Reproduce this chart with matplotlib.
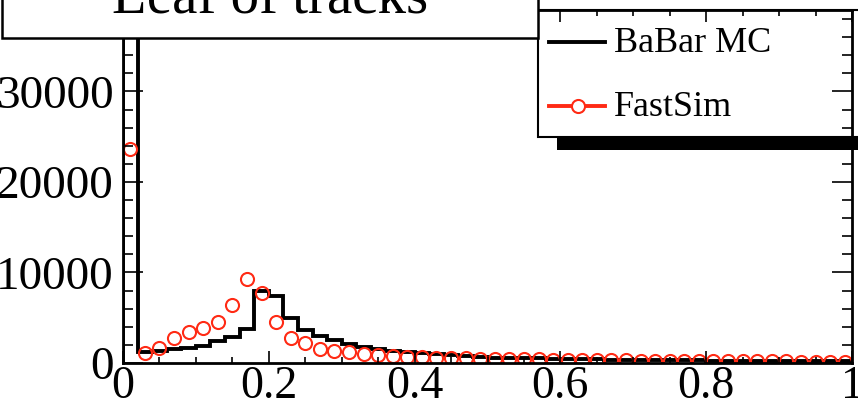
import numpy as np
import matplotlib.pyplot as plt
from matplotlib.patches import Rectangle
from matplotlib.lines import Line2D

# --- histogram contents, 50 bins of 0.02 between 0 and 1 ---
bin_edges = np.linspace(0.0, 1.0, 51)
bin_centers = 0.5 * (bin_edges[:-1] + bin_edges[1:])

babar_mc = [160000, 1200, 1350, 1500, 1650, 1900, 2400, 2900, 3800, 7900,
            7400, 5000, 3700, 2950, 2500, 2150, 1800, 1580, 1350, 1200,
            1050, 950, 850, 760, 680,
            600, 560, 530, 500, 470, 440, 420, 400, 380, 360,
            340, 320, 300, 290, 280, 270, 260, 250, 240, 230,
            220, 210, 200, 190, 180]

fastsim = [23600, 1150, 1700, 2800, 3400, 3900, 4500, 6400, 9300, 7700,
           4500, 2800, 2200, 1600, 1350, 1200, 1000, 850, 750, 700,
           650, 600, 550, 500, 480,
           450, 430, 410, 390, 370, 350, 330, 310, 300, 290,
           270, 260, 250, 240, 230, 220, 210, 200, 190, 180,
           170, 160, 150, 140, 130]

x_ticks = [0, 0.2, 0.4, 0.6, 0.8, 1.0]
x_tick_labels = ['0', '0.2', '0.4', '0.6', '0.8', '1']
y_ticks = [0, 10000, 20000, 30000]
y_tick_labels = ['0', '10000', '20000', '30000']

title_text = 'Leaf of tracks'
legend_labels = ['BaBar MC', 'FastSim']

RED = '#ff2a14'
SERIF = 'Liberation Serif'

W, H = 858, 413
fig = plt.figure(figsize=(W / 100, H / 100), dpi=100)

def fx(px):
    return px / W

def fy(py):
    # py measured from the top of the picture
    return 1 - py / H

# frame: x 123..852, y 10..363 px
ax = fig.add_axes([fx(123), fy(363), fx(852) - fx(123), fy(10) - fy(363)])

ax.stairs(babar_mc, bin_edges, color='black', lw=2.8, zorder=2)
ax.plot(bin_centers, fastsim, 'o', mfc='none', mec=RED, ms=9.4, mew=1.5, zorder=2.1)

ax.set_xlim(0, 1)
ax.set_ylim(0, 39000)
ax.set_xticks(x_ticks, x_tick_labels)
ax.set_yticks(y_ticks, y_tick_labels)
ax.set_xticks(np.arange(0, 1.0001, 0.05), minor=True)
ax.set_yticks(np.arange(0, 39000, 2000), minor=True)

ax.set_axisbelow(False)
for s in ax.spines.values():
    s.set_linewidth(2.0)
ax.tick_params(which='both', direction='in', top=True, right=True, width=1.2)
ax.xaxis.set_tick_params(which='major', length=8.5, pad=2, labelsize=33)
ax.xaxis.set_tick_params(which='minor', length=4.5)
ax.yaxis.set_tick_params(which='major', length=14.5, pad=6.5, labelsize=34)
ax.yaxis.set_tick_params(which='minor', length=7.5)
for lab in ax.get_xticklabels() + ax.get_yticklabels():
    lab.set_family(SERIF)

# --- legend drawn ROOT style, with a hard black shadow; frame drawn over it ---
pix = fig.transFigure
ax.add_patch(Rectangle((fx(557), fy(150)), fx(900) - fx(557), fy(23) - fy(150),
                       transform=pix, facecolor='black', edgecolor='none',
                       clip_on=False, zorder=2.2))
ax.add_patch(Rectangle((fx(538), fy(137)), fx(880) - fx(538), fy(10) - fy(137),
                       transform=pix, facecolor='white', edgecolor='black', lw=1.5,
                       clip_on=False, zorder=2.3))
ax.add_line(Line2D([fx(549), fx(605)], [fy(41.5), fy(41.5)], transform=pix,
                   color='black', lw=2.8, clip_on=False, zorder=2.4))
ax.add_line(Line2D([fx(549), fx(605)], [fy(106), fy(106)], transform=pix,
                   color=RED, lw=2.8, clip_on=False, zorder=2.4))
ax.add_line(Line2D([fx(578)], [fy(106)], transform=pix, marker='o', mfc='white',
                   mec=RED, ms=9.4, mew=1.5, clip_on=False, zorder=2.45))
fig.text(fx(614), fy(43), legend_labels[0], family=SERIF, fontsize=26,
         va='center', ha='left', zorder=3)
fig.text(fx(614), fy(108), legend_labels[1], family=SERIF, fontsize=26,
         va='center', ha='left', zorder=3)

# --- title pave, its top is cut by the picture edge ---
fig.add_artist(Rectangle((fx(2), fy(38)), fx(538) - fx(2), fy(-60) - fy(38),
                         transform=pix, facecolor='white', edgecolor='black',
                         lw=1.8, zorder=5))
fig.text(fx(270), fy(12.5), title_text, family=SERIF, fontsize=41,
         ha='center', va='baseline', zorder=6)

fig.savefig('out.png', dpi=100)
